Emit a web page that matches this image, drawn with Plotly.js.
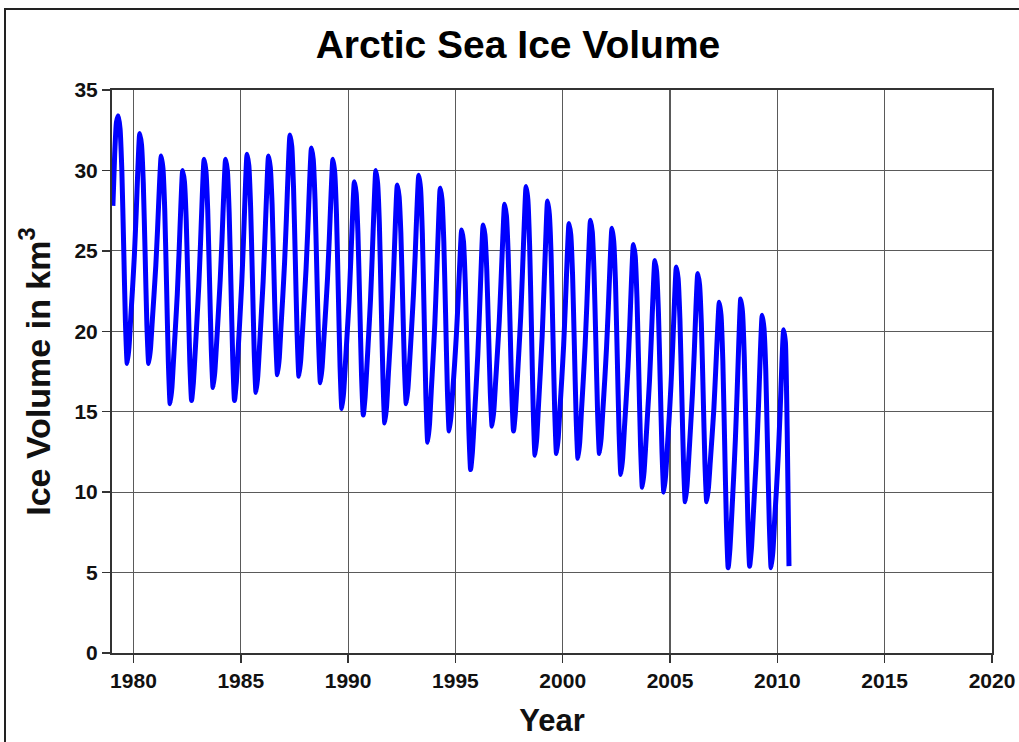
<!DOCTYPE html>
<html>
<head>
<meta charset="utf-8">
<script src="https://cdn.plot.ly/plotly-3.0.1.min.js"></script>
<style>
  html, body { margin: 0; padding: 0; background: #fff; }
  #wrap { position: relative; width: 1019px; height: 742px; }
  #chart { position: absolute; left: 0; top: 0; width: 1019px; height: 742px; }
  #frame { position: absolute; left: 4px; top: 8px; width: 1030px; height: 760px;
           border-left: 2px solid #222; border-top: 2px solid #222; pointer-events: none; }
</style>
</head>
<body>
<div id="wrap">
  <div id="chart"></div>
  <div id="frame"></div>
</div>
<script>
// Monthly Arctic sea ice volume (1000 km^3), Jan 1979 - Jul 2010
const startYear = 1979;
const vol1979_1989 = [
  27.8, 31.0, 33.0, 33.4, 32.6, 30.0, 25.4, 20.6, 18.0, 19.0, 20.9, 22.7, // 1979
  24.7, 27.3, 30.2, 32.3, 31.6, 29.2, 24.9, 20.4, 18.0, 18.9, 20.6, 22.3, // 1980
  24.1, 26.4, 29.0, 30.9, 30.1, 27.5, 22.9, 18.1, 15.5, 16.5, 18.4, 20.3, // 1981
  22.3, 24.9, 27.8, 30.0, 29.3, 26.9, 22.6, 18.1, 15.7, 16.8, 18.7, 20.7, // 1982
  22.8, 25.5, 28.5, 30.7, 30.0, 27.6, 23.3, 18.9, 16.5, 17.5, 19.3, 21.2, // 1983
  23.2, 25.7, 28.6, 30.7, 30.0, 27.4, 22.9, 18.3, 15.7, 16.8, 18.8, 20.8, // 1984
  22.9, 25.6, 28.7, 31.0, 30.3, 27.7, 23.3, 18.7, 16.2, 17.2, 19.1, 21.1, // 1985
  23.1, 25.8, 28.7, 30.9, 30.2, 27.9, 23.8, 19.6, 17.3, 18.3, 20.3, 22.2, // 1986
  24.3, 27.0, 30.0, 32.2, 31.5, 28.9, 24.4, 19.8, 17.2, 18.2, 20.0, 21.9, // 1987
  23.9, 26.4, 29.3, 31.4, 30.7, 28.2, 23.8, 19.3, 16.8, 17.8, 19.6, 21.4, // 1988
  23.3, 25.8, 28.6, 30.7, 29.9, 27.3, 22.6, 17.8, 15.2, 16.2, 18.0, 19.9  // 1989
];
const vol1990_1999 = [
  21.8, 24.4, 27.2, 29.3, 28.6, 26.1, 21.8, 17.3, 14.8, 15.9, 17.8, 19.8, // 1990
  21.9, 24.7, 27.7, 30.0, 29.2, 26.6, 21.8, 17.0, 14.3, 15.3, 17.3, 19.2, // 1991
  21.3, 23.9, 26.9, 29.1, 28.4, 26.1, 22.0, 17.8, 15.5, 16.5, 18.3, 20.2, // 1992
  22.2, 24.7, 27.6, 29.7, 28.9, 26.1, 21.1, 15.9, 13.1, 14.2, 16.3, 18.3, // 1993
  20.5, 23.4, 26.5, 28.9, 28.2, 25.6, 21.1, 16.4, 13.8, 14.7, 16.3, 17.9, // 1994
  19.7, 21.9, 24.4, 26.3, 25.6, 23.0, 18.6, 13.9, 11.4, 12.5, 14.4, 16.4, // 1995
  18.5, 21.3, 24.3, 26.6, 26.0, 23.9, 20.1, 16.2, 14.1, 15.1, 16.9, 18.7, // 1996
  20.6, 23.1, 25.8, 27.9, 27.2, 24.8, 20.6, 16.2, 13.8, 14.9, 16.8, 18.8, // 1997
  20.9, 23.7, 26.7, 29.0, 28.2, 25.3, 20.3, 15.1, 12.3, 13.4, 15.5, 17.5, // 1998
  19.7, 22.6, 25.7, 28.1, 27.3, 24.7, 19.9, 15.1, 12.4, 13.4, 15.3, 17.1  // 1999
];
const vol2000_2010 = [
  19.1, 21.7, 24.6, 26.7, 26.0, 23.5, 19.1, 14.6, 12.1, 13.1, 15.1, 17.0, // 2000
  19.1, 21.7, 24.7, 26.9, 26.2, 23.7, 19.4, 14.9, 12.4, 13.4, 15.2, 17.0, // 2001
  19.0, 21.5, 24.3, 26.4, 25.6, 23.0, 18.4, 13.7, 11.1, 12.1, 14.0, 15.8, // 2002
  17.8, 20.4, 23.3, 25.4, 24.7, 22.1, 17.6, 12.9, 10.3, 11.3, 13.1, 15.0, // 2003
  16.9, 19.5, 22.3, 24.4, 23.7, 21.2, 16.9, 12.5, 10.0, 11.0, 12.8, 14.6, // 2004
  16.6, 19.1, 21.9, 24.0, 23.3, 20.8, 16.4, 11.9,  9.4, 10.4, 12.2, 14.1, // 2005
  16.1, 18.6, 21.5, 23.6, 22.9, 20.5, 16.2, 11.8,  9.4, 10.3, 11.9, 13.5, // 2006
  15.2, 17.5, 19.9, 21.8, 21.0, 18.2, 13.2,  8.1,  5.3,  6.5,  8.6, 10.8, // 2007
  13.2, 16.2, 19.5, 22.0, 21.2, 18.4, 13.4,  8.2,  5.4,  6.5,  8.5, 10.6, // 2008
  12.7, 15.5, 18.7, 21.0, 20.2, 17.6, 12.8,  8.0,  5.3,  6.3,  8.3, 10.2, // 2009
  12.3, 14.9, 17.9, 20.1, 19.3, 13.8,  5.4                                // 2010
];
const xTickVals = [1980, 1985, 1990, 1995, 2000, 2005, 2010, 2015, 2020];
const yTickVals = [0, 5, 10, 15, 20, 25, 30, 35];

const volume = vol1979_1989.concat(vol1990_1999, vol2000_2010);
const time = volume.map((v, i) => startYear + (i + 0.5) / 12);

const FONT = '"Liberation Sans", Arial, Helvetica, sans-serif';

const trace = {
  x: time, y: volume, type: 'scatter', mode: 'lines',
  line: { color: '#0000ff', width: 5, shape: 'spline', smoothing: 0.5 },
  hoverinfo: 'skip'
};

const layout = {
  width: 1019, height: 742,
  paper_bgcolor: 'rgba(0,0,0,0)', plot_bgcolor: '#ffffff',
  margin: { l: 112, r: 27, t: 90, b: 89 },
  showlegend: false,
  title: {
    text: 'Arctic Sea Ice Volume',
    font: { family: FONT, size: 39, weight: 'bold', color: '#000' },
    xref: 'container', x: 518 / 1019, xanchor: 'center',
    yref: 'container', y: 1 - 44 / 742, yanchor: 'middle'
  },
  xaxis: {
    range: [1979, 2020], tickmode: 'array', tickvals: xTickVals,
    ticktext: xTickVals.map(String),
    ticks: 'outside', ticklen: 8, tickwidth: 1.5, tickcolor: '#333',
    showgrid: true, gridcolor: '#5a5a5a', gridwidth: 1.2,
    showline: true, linecolor: '#333', linewidth: 2, mirror: true,
    zeroline: false,
    tickfont: { family: FONT, size: 21, weight: 'bold', color: '#111' },
    title: { text: 'Year', standoff: 18,
             font: { family: FONT, size: 31, weight: 'bold', color: '#111' } }
  },
  yaxis: {
    range: [0, 35], tickmode: 'array', tickvals: yTickVals,
    ticks: 'outside', ticklen: 8, tickwidth: 1.5, tickcolor: '#333',
    showgrid: true, gridcolor: '#5a5a5a', gridwidth: 1.2,
    showline: true, linecolor: '#333', linewidth: 2, mirror: true,
    zeroline: false,
    tickfont: { family: FONT, size: 21, weight: 'bold', color: '#111' },
    title: { text: 'Ice Volume in km<sup>3</sup>', standoff: 14,
             font: { family: FONT, size: 34, weight: 'bold', color: '#111' } }
  }
};

Plotly.newPlot('chart', [trace], layout, { staticPlot: true, displayModeBar: false });
</script>
</body>
</html>
